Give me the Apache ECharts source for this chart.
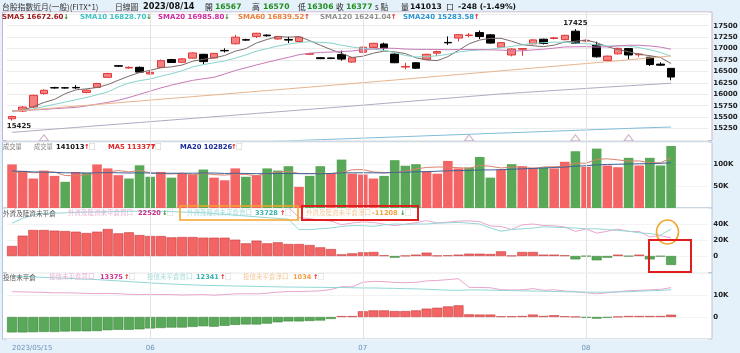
<!DOCTYPE html>
<html><head><meta charset="utf-8">
<script src="https://cdn.jsdelivr.net/npm/echarts@6/dist/echarts.min.js"></script>
<style>html,body{margin:0;padding:0;background:#e4f0fa;}#chart{width:740px;height:353px;}</style>
</head><body><div id="chart"></div>
<script>
const dates = ['2023/05/15','2023/05/16','2023/05/17','2023/05/18','2023/05/19','2023/05/22','2023/05/23','2023/05/24','2023/05/25','2023/05/26','2023/05/29','2023/05/30','2023/05/31',
'2023/06/01','2023/06/02','2023/06/05','2023/06/06','2023/06/07','2023/06/08','2023/06/09','2023/06/12','2023/06/13','2023/06/14','2023/06/15','2023/06/16','2023/06/19','2023/06/20','2023/06/21','2023/06/26','2023/06/27','2023/06/28','2023/06/29','2023/06/30',
'2023/07/03','2023/07/04','2023/07/05','2023/07/06','2023/07/07','2023/07/10','2023/07/11','2023/07/12','2023/07/13','2023/07/14','2023/07/17','2023/07/18','2023/07/19','2023/07/20','2023/07/21','2023/07/24','2023/07/25','2023/07/26','2023/07/27','2023/07/28','2023/07/31',
'2023/08/01','2023/08/02','2023/08/04','2023/08/07','2023/08/08','2023/08/09','2023/08/10','2023/08/11','2023/08/14'];
const padCats = ['_p1','_p2','_p3'];
const tickLabels = {'2023/05/15':'2023/05/15','2023/06/01':'06','2023/07/03':'07','2023/08/01':'08'};
const monthStarts = ['2023/06/01','2023/07/03','2023/08/01'];
const eventDates = ['2023/05/18','2023/07/17','2023/07/31','2023/08/08'];

const opens  = [15465,15632,15720,16015,16145,16142,16150,16040,16150,16370,16625,16575,16590,16445,16590,16760,16700,16790,16875,16795,16960,17105,17195,17265,17295,17210,17200,17155,16875,16800,16795,16870,16705,16920,17025,17100,16880,16595,16690,16765,16900,17135,17230,17285,17350,17300,17030,16860,16985,17105,17205,17220,17195,17380,17165,17080,16740,16885,17000,16865,16810,16660,16567];
const closes = [15515,15720,15978,16088,16139,16138,16140,16090,16235,16455,16615,16590,16485,16480,16735,16695,16775,16905,16715,16895,16950,17250,17185,17335,17280,17265,17185,17250,16890,16780,16785,16770,16800,17030,17115,17010,16690,16610,16570,16875,16935,17125,17305,17295,17265,17120,17130,16990,17000,17190,17110,17235,17290,17115,17180,16820,16835,17005,16860,16880,16650,16636,16377];
const lows   = [15425,15610,15700,15995,16120,16125,16120,16020,16140,16360,16595,16560,16470,16430,16580,16685,16690,16780,16660,16785,16915,17090,17170,17230,17260,17195,17120,17145,16860,16770,16770,16735,16690,16905,17010,16960,16680,16545,16560,16755,16840,17080,17155,17250,17210,17110,17020,16830,16840,17090,17090,17200,17180,17100,17140,16800,16725,16870,16765,16820,16620,16620,16306];
const highs  = [15530,15740,15990,16110,16165,16160,16200,16110,16250,16470,16640,16610,16610,16525,16760,16775,16785,16920,16885,16905,17005,17300,17215,17345,17310,17275,17260,17260,16905,16810,16800,16955,16810,17040,17125,17130,16890,16690,16700,16885,16955,17265,17310,17340,17395,17320,17140,17005,17010,17205,17215,17255,17300,17425,17200,17150,16845,17020,17015,16900,16820,16700,16570];

const sma5   = [15630,15650,15730,15820,15888,16013,16097,16119,16148,16212,16307,16397,16476,16525,16580,16600,16640,16724,16765,16797,16848,16943,16999,17123,17200,17263,17250,17263,17174,17074,16978,16895,16805,16833,16900,16945,16929,16891,16799,16751,16736,16823,16961,17105,17187,17223,17225,17160,17085,17062,17042,17075,17145,17160,17185,17130,17040,16980,16930,16875,16845,16805,16673];
const sma10  = [15632,15650,15680,15730,15780,15830,15880,15930,15990,16050,16160,16247,16298,16335,16395,16450,16515,16600,16648,16690,16726,16792,16862,16944,16999,17056,17097,17131,17149,17137,17121,17073,17034,17004,16987,16962,16912,16848,16816,16826,16841,16876,16926,16954,16969,16982,17020,17048,17080,17112,17130,17140,17140,17120,17110,17080,17055,17062,17055,17020,16975,16915,16829];
const sma20  = [15632,15645,15657,15669,15685,15700,15713,15745,15785,15823,15870,15930,16000,16070,16140,16200,16255,16305,16340,16371,16443,16520,16580,16642,16700,16756,16808,16866,16899,16915,16924,16933,16948,16974,16993,17009,17005,16990,16983,16982,16981,16975,16980,16979,16978,16972,16967,16950,16950,16971,16987,17010,17035,17039,17042,17033,17039,17059,17073,17071,17057,17032,16986];
const sma60  = [15625,15644,15664,15682,15701,15721,15740,15758,15778,15797,15815,15835,15854,15872,15892,15911,15929,15949,15968,15986,16006,16025,16043,16063,16082,16100,16120,16139,16157,16177,16196,16214,16234,16253,16273,16293,16312,16333,16353,16372,16393,16413,16432,16453,16473,16492,16513,16533,16552,16573,16593,16612,16633,16653,16672,16693,16713,16732,16754,16775,16796,16818,16840];
const sma120 = [15168,15185,15203,15221,15239,15257,15275,15293,15311,15329,15347,15365,15383,15401,15419,15437,15455,15473,15491,15509,15527,15545,15563,15581,15599,15617,15635,15653,15671,15689,15707,15725,15743,15762,15781,15800,15819,15838,15857,15876,15895,15914,15933,15952,15971,15990,16008,16023,16038,16053,16068,16083,16098,16113,16128,16143,16158,16172,16186,16200,16214,16228,16241];
const sma240 = [14760,14769,14777,14786,14794,14803,14811,14820,14828,14837,14845,14854,14862,14871,14879,14888,14896,14905,14913,14922,14930,14939,14947,14956,14964,14973,14981,14990,14998,15007,15015,15024,15032,15041,15049,15058,15066,15075,15083,15092,15100,15109,15117,15126,15134,15143,15151,15160,15168,15177,15185,15194,15202,15211,15219,15228,15236,15245,15253,15262,15270,15277,15284];

const volume = [99000,84500,67000,85000,73000,59500,82000,80000,99000,90000,74600,67000,97000,71000,82000,69000,78000,76000,87500,69000,63000,90000,71000,74600,90000,85000,95000,48000,73000,95000,78000,110000,78000,76000,67000,73000,108700,96000,99600,83700,78000,107000,90000,92000,116000,69000,88000,99600,95000,92000,92000,90000,105000,129000,93600,135000,96600,92700,114000,96600,114000,96600,141013];
const volMA5 = [80000,82000,80000,82000,81700,73800,73300,75900,78700,82100,85100,82100,85500,79900,78300,77200,79400,75200,78500,75900,74700,77100,76100,73500,77700,82100,83100,78500,78200,79200,77800,80800,86800,87400,81800,80800,80500,84100,88900,92200,93200,92900,91700,90100,96600,94800,91000,92900,93500,88700,93300,93700,94800,101600,101900,110500,111800,109400,106400,107000,102800,102800,113377];
const volMA20 = [84000,83000,82000,81500,81000,80000,80000,79500,80000,80500,80000,79500,80000,79500,79000,79000,79000,79000,79500,79500,78500,79000,78500,78000,78000,78500,78500,78000,78000,77800,78500,80000,80000,80000,80000,79500,81000,81500,82000,82700,83500,84500,85000,85500,86500,86500,87000,88000,89000,89800,91000,92000,93000,95000,96000,98000,99000,99500,100000,100500,101000,101500,102826];

const fNet  = [12500,25400,32500,32500,31700,31200,30400,28700,30400,33700,28300,29600,26200,25000,25000,23300,23700,23700,22900,22900,22900,20400,15800,19200,15800,17100,15000,15000,13700,10800,8700,2100,3300,4600,5000,800,-2100,300,1700,4200,400,800,1700,2900,2900,2500,5800,300,5000,5000,1700,1700,800,-4200,-300,-5400,-2100,1700,-300,1700,-4200,-500,-11208];
const fSell = [41000,47000,51500,53000,53500,54000,54500,55000,55000,55500,55500,56000,56000,56000,56000,55500,55000,54500,54000,53000,52000,51000,50000,49000,48000,47000,46000,33000,33000,34000,35000,37000,38000,38000,37000,39000,40000,39500,40000,40000,41000,41500,42000,41000,40000,35000,31000,33000,34000,35000,36500,36000,35500,35000,34000,34000,33000,32000,31000,29000,28000,26000,33728];
const fBuy  = [53500,72400,84000,85500,85200,85200,84900,83700,85400,89200,83800,85600,82200,81000,81000,78800,78700,78200,76900,75900,74900,71400,65800,68200,63800,64100,61000,48000,46700,44800,43700,39100,41300,42600,42000,39800,37900,39800,41700,44200,41400,42300,43700,43900,42900,37500,36800,33300,39000,40000,38200,37700,36300,30800,33700,28600,30900,33700,30700,30700,23800,25500,22520];

const tNet  = [-7000,-7000,-6900,-6800,-6800,-6600,-6500,-6500,-6400,-6000,-5800,-5800,-5600,-5200,-5000,-4800,-4800,-4500,-4200,-4400,-4000,-3600,-3400,-3400,-3000,-2400,-2000,-2000,-1800,-1600,-900,400,400,2600,3000,3000,2700,2700,3000,3800,4200,4800,5300,1200,1100,1100,300,300,450,1100,450,800,300,100,-300,-750,-300,100,450,450,450,450,1034];
const tSell = [18500,18400,18200,18000,17800,17600,17400,17200,17000,16700,16400,16100,15800,15500,15200,15000,14800,14600,14400,14300,14200,14100,14000,13900,13800,13700,13600,13600,13500,13500,13400,13400,13300,13200,13200,13100,13000,12900,12800,12600,12400,12200,12100,12300,12300,12200,12100,12000,11900,11800,11700,11600,11500,11400,11300,11300,11300,11400,11500,11700,11900,12100,12341];
const tBuy  = [11500,11400,11300,11200,11000,11000,10900,10700,10600,10700,10600,10300,10200,10300,10200,10200,10000,10100,10200,9900,10200,10500,10600,10500,10800,11300,11600,11600,11700,11900,12500,13800,13700,15800,16200,16100,15700,15600,15800,16400,16600,17000,17400,13500,13400,13300,12400,12300,12350,12900,12150,12400,11800,11500,11000,10550,11000,11500,11950,12150,12350,12550,13375];

const mainLabels = [15250,15500,15750,16000,16250,16500,16750,17000,17250,17500];
const volLabels = {50000:'50K',100000:'100K'};
const fLabels = {0:'0',20000:'20K',40000:'40K'};
const tLabels = {0:'0',10000:'10K'};

[opens,closes,lows,highs,sma5,sma10,sma20,sma60,sma120,sma240,volume,volMA5,volMA20,fNet,fSell,fBuy,tNet,tSell,tBuy].forEach((a,k)=>{ if(a.length!==dates.length) throw new Error('len '+k+' '+a.length); });

const cats = dates.concat(padCats);
const CJK = '"Noto Sans CJK TC","Noto Sans CJK SC",sans-serif';
const NUM = '"DejaVu Sans",Verdana,sans-serif';
const UP = '#f46464', DOWN = '#58a858';

const L = 6.7, W = 701.6;
const grids = [
  {left:L, width:W, top:12, height:128},
  {left:L, width:W, top:142, height:66},
  {left:L, width:W, top:208, height:64},
  {left:L, width:W, top:273, height:66}
].map(g => Object.assign(g, {outerBoundsMode:'none'}));

const showTick = (i, v) => tickLabels[v] !== undefined;
const xAxes = grids.map((g, k) => ({
  type:'category', gridIndex:k, data:cats, boundaryGap:true,
  axisLine:{show:false},
  axisTick: k===3 ? {show:true, alignWithLabel:true, interval:showTick, length:3, lineStyle:{color:'#8fb0cc'}} : {show:false},
  axisLabel: k===3 ? {show:true, interval:showTick, formatter:v=>tickLabels[v]||'', color:'#6f93b8', fontSize:7, fontFamily:NUM, margin:6, alignMinLabel:'left'} : {show:false},
  splitLine:{show:false}
}));
const yLabelStyle = {color:'#222', fontSize:7, fontWeight:'bold', fontFamily:NUM, margin:5};
const yAxes = [
  {gridIndex:0, min:15000, max:17800, interval:250, axisLabel:Object.assign({formatter:v=>mainLabels.includes(v)?String(v):''}, yLabelStyle), splitLine:{show:true, lineStyle:{color:'#ececec'}}},
  {gridIndex:1, min:0, max:150000, interval:50000, axisLabel:Object.assign({formatter:v=>volLabels[v]||''}, yLabelStyle), splitLine:{show:true, lineStyle:{color:'#f3f3f3'}}},
  {gridIndex:2, min:-20000, max:60000, interval:20000, axisLabel:Object.assign({formatter:v=>fLabels[v]||''}, yLabelStyle), splitLine:{show:true, lineStyle:{color:'#f3f3f3'}}},
  {gridIndex:3, min:-10000, max:20000, interval:10000, axisLabel:Object.assign({formatter:v=>tLabels[v]||''}, yLabelStyle), splitLine:{show:true, lineStyle:{color:'#f3f3f3'}}}
].map(a => Object.assign({type:'value', position:'right', scale:false, axisLine:{show:false}, axisTick:{show:false}}, a));

const monthLines = {silent:true, symbol:['none','none'], label:{show:false}, animation:false,
  lineStyle:{color:'#e2e2e2', type:'solid', width:1}, data: monthStarts.map(d=>({xAxis:d}))};

const line = (name, data, color, xi, yi, width) => ({
  name, type:'line', xAxisIndex:xi, yAxisIndex:yi, data, showSymbol:false, symbol:'none',
  lineStyle:{color, width:width||1}, itemStyle:{color}, silent:true, z:3
});

const candleData = dates.map((d,i)=>[opens[i], closes[i], lows[i], highs[i]]);
const volData = volume.map((v,i)=>({value:v, itemStyle:{color: (i===0 || closes[i] >= closes[i-1]) ? UP : DOWN}}));
const netBar = arr => arr.map(v=>({value:v, itemStyle:{color: v>=0 ? '#f36464' : '#5aa85a', borderColor: v>=0 ? '#c83a3a' : '#3d873d', borderWidth:0.6}}));

const series = [
  {type:'candlestick', name:'K', xAxisIndex:0, yAxisIndex:0, data:candleData, barWidth:8,
   itemStyle:{color:'#f58080', color0:'#000000', borderColor:'#e03838', borderColor0:'#000000', borderWidth:1},
   markLine: monthLines,
   markPoint:{symbol:'circle', symbolSize:1, itemStyle:{color:'rgba(0,0,0,0)'}, silent:true, animation:false,
     label:{show:true, formatter:p=>String(p.value), color:'#222', fontSize:7, fontWeight:'bold', fontFamily:NUM},
     data:[
       {type:'max', valueDim:'highest', label:{position:'top', distance:2}},
       {type:'min', valueDim:'lowest', label:{position:'bottom', distance:2, offset:[7,0]}}
     ]}},
  line('SMA5', sma5, '#7c6a6a', 0, 0),
  line('SMA10', sma10, '#86d4cc', 0, 0),
  line('SMA20', sma20, '#c87ab8', 0, 0),
  line('SMA60', sma60, '#e8b48c', 0, 0),
  line('SMA120', sma120, '#b4a8c4', 0, 0),
  line('SMA240', sma240, '#80bcd8', 0, 0),
  {type:'scatter', name:'evt', xAxisIndex:0, yAxisIndex:0, data:eventDates.map(d=>[d,15050]), symbol:'triangle', symbolSize:[9,6],
   itemStyle:{color:'#ffffff', borderColor:'#c9a6bd', borderWidth:1}, silent:true, z:4},
  {type:'bar', name:'vol', xAxisIndex:1, yAxisIndex:1, data:volData, barCategoryGap:'10%', markLine: monthLines, silent:true},
  line('MA5', volMA5, '#d9826e', 1, 1),
  line('MA20', volMA20, '#3f6296', 1, 1),
  {type:'bar', name:'fnet', xAxisIndex:2, yAxisIndex:2, data:netBar(fNet), barCategoryGap:'6%', markLine: monthLines, silent:true},
  line('fBuy', fBuy, '#e8a6cc', 2, 2),
  line('fSell', fSell, '#93d6d6', 2, 2),
  {type:'bar', name:'tnet', xAxisIndex:3, yAxisIndex:3, data:netBar(tNet), barCategoryGap:'6%', markLine: monthLines, silent:true},
  line('tBuy', tBuy, '#e8a6cc', 3, 3),
  line('tSell', tSell, '#93d6d6', 3, 3)
];

const g = [];
const frame = (y, h, stroke) => g.push({type:'rect', z:0, silent:true, shape:{x:2.5, y:y+0.5, width:709.5, height:h}, style:{fill:'#ffffff', stroke, lineWidth:1}});
frame(11.5, 128.5, '#cdb3cf');
frame(141.5, 66, '#b6c8d8');
frame(207.5, 64.5, '#b6c8d8');
frame(272.5, 66, '#b6c8d8');
const T = (x, y, s, font, fill) => g.push({type:'text', z:60, silent:true, x, y, style:{text:s, font, fill, align:'left', verticalAlign:'middle'}});
// header
const HN = 'bold 7.6px '+NUM, HC = '7.8px '+CJK;
T(2, 7, '台股指數近月(一般)(FITX*1)', HC, '#333');
T(115, 7, '日線圖', HC, '#333');
T(143, 7, '2023/08/14', 'bold 8.2px '+NUM, '#111');
T(205, 7, '開', HC, '#222'); T(215, 7, '16567', HN, '#1f8c1f');
T(252, 7, '高', HC, '#222'); T(263, 7, '16570', HN, '#1f8c1f');
T(298, 7, '低', HC, '#222'); T(307, 7, '16306', HN, '#1f8c1f');
T(336, 7, '收', HC, '#222'); T(346, 7, '16377', HN, '#1f8c1f');
T(375, 7, 's 點', HC, '#333');
T(401, 7, '量', HC, '#222'); T(410, 7, '141013', HN, '#111');
T(446, 7, '口', HC, '#222'); T(458, 7, '-248 (-1.49%)', HN, '#111');
// SMA legend
const UPA = '#e02020', DNA = '#2c8a2c';
const smaLeg = [[2,'SMA5 16672.60','#a01c1c','↓'],[80,'SMA10 16828.70','#3cc4c4','↓'],[158,'SMA20 16985.80','#d02aa0','↓'],
  [238,'SMA60 16839.52','#ea7e3a','↑'],[320,'SMA120 16241.04','#909090','↑'],[403,'SMA240 15283.58','#2a96d6','↑']];
smaLeg.forEach(([x,s,c,a])=>{ T(x, 17, s, 'bold 7px '+NUM, c); T(x+s.length*4.72, 17, a, 'bold 7px '+NUM, a==='↑'?UPA:DNA); });
// volume legend
T(3, 147, '成交量', '6.3px '+CJK, '#777');
T(34, 147, '成交量', '6.3px '+CJK, '#888'); T(56, 147, '141013', 'bold 6.8px '+NUM, '#111'); T(84, 147, '↑', 'bold 6.8px '+NUM, UPA); T(89, 147, '□', '6.5px '+CJK, '#999');
T(108, 147, 'MA5 113377', 'bold 6.8px '+NUM, '#e02828'); T(150, 147, '↑', 'bold 6.8px '+NUM, UPA); T(155, 147, '□', '6.5px '+CJK, '#999');
T(180, 147, 'MA20 102826', 'bold 6.8px '+NUM, '#1c2c9c'); T(231, 147, '↑', 'bold 6.8px '+NUM, UPA); T(236, 147, '□', '6.5px '+CJK, '#999');
// foreign legend
T(3, 213, '外資及陸資未平倉', '6.6px '+CJK, '#555');
T(68, 213, '外資及陸資未平倉買口', '6.5px '+CJK, '#e6b2d4'); T(138, 213, '22520', 'bold 6.6px '+NUM, '#d02c8c'); T(162, 213, '↓', 'bold 6.6px '+NUM, DNA); T(167, 213, '□', '6.5px '+CJK, '#bbb');
T(187, 213, '外資及陸資未平倉賣口', '6.5px '+CJK, '#a6dada'); T(255, 213, '33728', 'bold 6.6px '+NUM, '#36b0b0'); T(280, 213, '↑', 'bold 6.6px '+NUM, UPA); T(285, 213, '□', '6.5px '+CJK, '#bbb');
T(306, 213, '外資及陸資未平倉淨口', '6.5px '+CJK, '#f2c898'); T(372, 213, '-11208', 'bold 6.6px '+NUM, '#f0a040'); T(400, 213, '↓', 'bold 6.6px '+NUM, DNA); T(405, 213, '□', '6.5px '+CJK, '#bbb');
// trust legend
T(3, 277, '投信未平倉', '6.6px '+CJK, '#555');
T(49, 277, '投信未平倉買口', '6.5px '+CJK, '#e6b2d4'); T(100, 277, '13375', 'bold 6.6px '+NUM, '#d02c8c'); T(124, 277, '↑', 'bold 6.6px '+NUM, UPA); T(129, 277, '□', '6.5px '+CJK, '#bbb');
T(147, 277, '投信未平倉賣口', '6.5px '+CJK, '#a6dada'); T(196, 277, '12341', 'bold 6.6px '+NUM, '#36b0b0'); T(220, 277, '↑', 'bold 6.6px '+NUM, UPA); T(225, 277, '□', '6.5px '+CJK, '#bbb');
T(243, 277, '投信未平倉淨口', '6.5px '+CJK, '#f2c898'); T(293, 277, '1034', 'bold 6.6px '+NUM, '#f0a040'); T(313, 277, '↑', 'bold 6.6px '+NUM, UPA); T(318, 277, '□', '6.5px '+CJK, '#bbb');
// annotations
g.push({type:'rect', z:80, silent:true, shape:{x:180, y:206, width:118, height:14}, style:{fill:null, stroke:'#f3a42c', lineWidth:1.6}});
g.push({type:'rect', z:80, silent:true, shape:{x:302, y:206, width:116, height:14}, style:{fill:null, stroke:'#e01e1e', lineWidth:2}});
g.push({type:'ellipse', z:80, silent:true, shape:{cx:667.5, cy:232, rx:11, ry:12}, style:{fill:null, stroke:'#f3a42c', lineWidth:1.6}});
g.push({type:'rect', z:80, silent:true, shape:{x:649, y:240, width:42, height:32}, style:{fill:null, stroke:'#e01e1e', lineWidth:2}});

const chart = echarts.init(document.getElementById('chart'), null, {renderer:'canvas'});
chart.setOption({
  animation:false,
  backgroundColor:'#e4f0fa',
  grid:grids, xAxis:xAxes, yAxis:yAxes, series,
  graphic:{elements:g}
});
</script></body></html>
